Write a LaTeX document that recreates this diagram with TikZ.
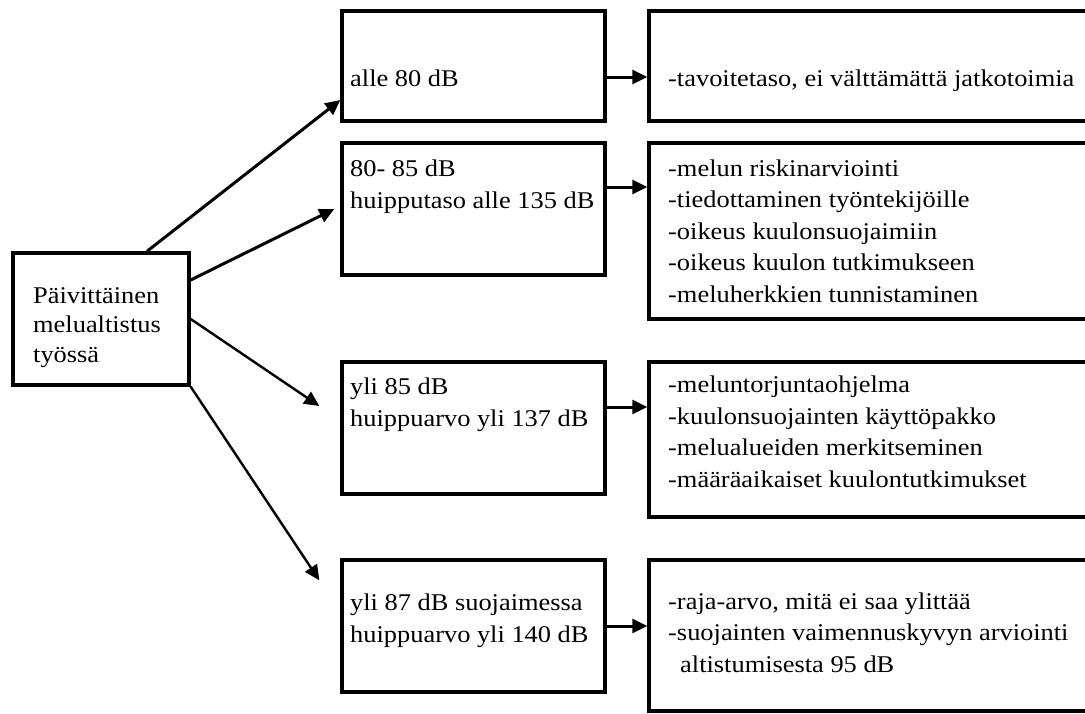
\documentclass[tikz,border=0pt]{standalone}
\usepackage{fontspec}
\setmainfont{Liberation Serif}[FakeStretch=1.1]
\usetikzlibrary{arrows.meta}
\begin{document}
\begin{tikzpicture}[x=1pt,y=-1pt,
  box/.style={draw, line width=3.4pt, inner sep=0pt},
  txt/.style={inner sep=0pt, align=left, anchor=base west, font=\fontsize{24}{31.5}\selectfont},
  ltxt/.style={inner sep=0pt, align=left, anchor=base west, font=\fontsize{24}{29.5}\selectfont},
  arr/.style={line width=3pt, -{Triangle[length=15pt,width=14pt]}},
  arrthin/.style={line width=2.4pt, -{Triangle[length=15pt,width=14pt]}}
]
\path[use as bounding box] (0,0) rectangle (1085,713);
\fill[white] (0,0) rectangle (1085,713);
\clip (0,0) rectangle (1085,713);

% left box
\node[box, minimum width=176pt, minimum height=132pt] (L) at (101,319) {};
\node[ltxt] (tL) at (33,362) {Päivittäinen\\melualtistus\\työssä};

% middle boxes
\node[box, minimum width=263pt, minimum height=110pt] (M1) at (473.5,66) {};
\node[box, minimum width=263pt, minimum height=132pt] (M2) at (473.5,209) {};
\node[box, minimum width=263pt, minimum height=132pt] (M3) at (473.5,428) {};
\node[box, minimum width=263pt, minimum height=132pt] (M4) at (473.5,626) {};

\node[txt] (tM1) at (350,86) {alle 80 dB};
\node[txt] (tM2) at (350,208) {80- 85 dB\\huipputaso alle 135 dB};
\node[txt] (tM3) at (350,426) {yli 85 dB\\huippuarvo yli 137 dB};
\node[txt] (tM4) at (350,642) {yli 87 dB suojaimessa\\huippuarvo yli 140 dB};

% right boxes
\node[box, minimum width=461pt, minimum height=110pt] (R1) at (879.5,66) {};
\node[box, minimum width=461pt, minimum height=176pt] (R2) at (879.5,231) {};
\node[box, minimum width=461pt, minimum height=155pt] (R3) at (879.5,439.5) {};
\node[box, minimum width=461pt, minimum height=151pt] (R4) at (879.5,635.5) {};

\node[txt] (tR1) at (668,86) {-tavoitetaso, ei välttämättä jatkotoimia};
\node[txt] (tR2) at (668,302) {-melun riskinarviointi\\-tiedottaminen työntekijöille\\-oikeus kuulonsuojaimiin\\-oikeus kuulon tutkimukseen\\-meluherkkien tunnistaminen};
\node[txt] (tR3) at (668,487) {-meluntorjuntaohjelma\\-kuulonsuojainten käyttöpakko\\-melualueiden merkitseminen\\-määräaikaiset kuulontutkimukset};
\node[txt] (tR4) at (668,672) {-raja-arvo, mitä ei saa ylittää\\-suojainten vaimennuskyvyn arviointi\\\hspace*{12pt}altistumisesta 95 dB};

% horizontal arrows
\draw[arr] (M1.east |- 0,77) -- (R1.west |- 0,77);
\draw[arr] (M2.east |- 0,187) -- (R2.west |- 0,187);
\draw[arr] (M3.east |- 0,407) -- (R3.west |- 0,407);
\draw[arr] (M4.east |- 0,626) -- (R4.west |- 0,626);

% diagonal arrows
\draw[arr] ([xshift=46pt]L.north) -- ([yshift=-34pt]M1.west);
\draw[arr] ([yshift=39pt]L.east) -- ([xshift=-6pt]M2.west);
\draw[arrthin] (L.east) -- ([xshift=-21pt,yshift=22pt]M3.west);
\draw[arrthin] (L.south east) -- ([xshift=-21pt,yshift=-22pt]M4.north west);
\end{tikzpicture}
\end{document}
